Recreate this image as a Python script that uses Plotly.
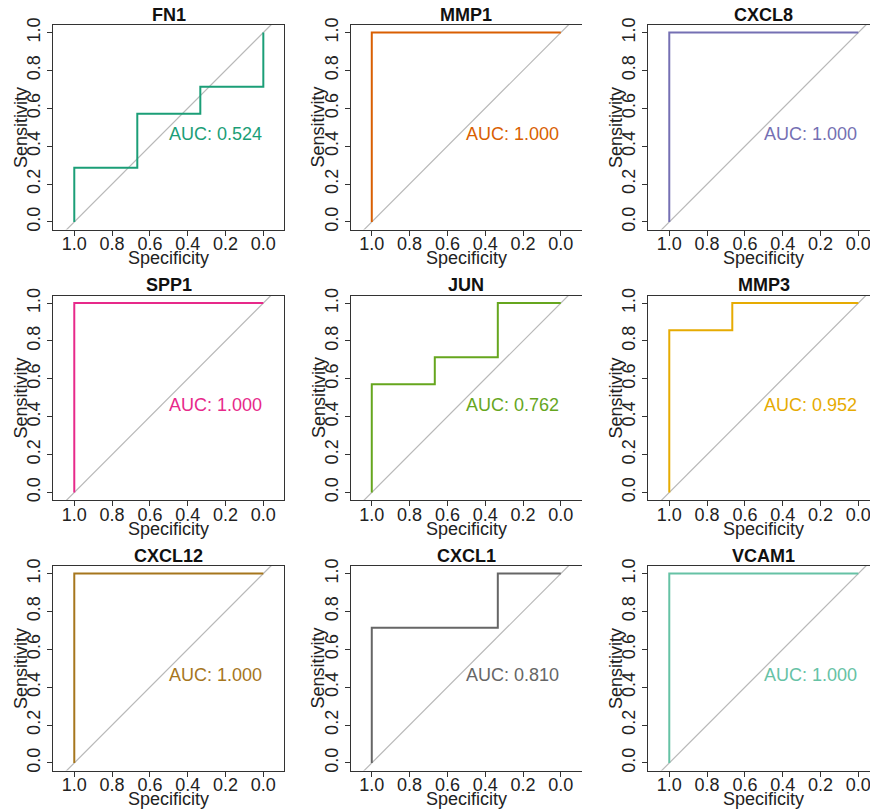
import plotly.graph_objects as go

# ROC curves (specificity, sensitivity) for each gene
genes = ["FN1", "MMP1", "CXCL8", "SPP1", "JUN", "MMP3", "CXCL12", "CXCL1", "VCAM1"]

FN1_spec = [1.0, 1.0, 0.6667, 0.6667, 0.3333, 0.3333, 0.0, 0.0]
FN1_sens = [0.0, 0.2857, 0.2857, 0.5714, 0.5714, 0.7143, 0.7143, 1.0]

MMP1_spec = [1.0, 1.0, 0.0]
MMP1_sens = [0.0, 1.0, 1.0]

CXCL8_spec = [1.0, 1.0, 0.0]
CXCL8_sens = [0.0, 1.0, 1.0]

SPP1_spec = [1.0, 1.0, 0.0]
SPP1_sens = [0.0, 1.0, 1.0]

JUN_spec = [1.0, 1.0, 0.6667, 0.6667, 0.3333, 0.3333, 0.0]
JUN_sens = [0.0, 0.5714, 0.5714, 0.7143, 0.7143, 1.0, 1.0]

MMP3_spec = [1.0, 1.0, 0.6667, 0.6667, 0.0]
MMP3_sens = [0.0, 0.8571, 0.8571, 1.0, 1.0]

CXCL12_spec = [1.0, 1.0, 0.0]
CXCL12_sens = [0.0, 1.0, 1.0]

CXCL1_spec = [1.0, 1.0, 0.3333, 0.3333, 0.0]
CXCL1_sens = [0.0, 0.7143, 0.7143, 1.0, 1.0]

VCAM1_spec = [1.0, 1.0, 0.0]
VCAM1_sens = [0.0, 1.0, 1.0]

curve_spec = [FN1_spec, MMP1_spec, CXCL8_spec, SPP1_spec, JUN_spec,
              MMP3_spec, CXCL12_spec, CXCL1_spec, VCAM1_spec]
curve_sens = [FN1_sens, MMP1_sens, CXCL8_sens, SPP1_sens, JUN_sens,
              MMP3_sens, CXCL12_sens, CXCL1_sens, VCAM1_sens]

colors = ["#1B9E77", "#D95F02", "#7570B3", "#E7298A", "#66A61E",
          "#E6AB02", "#A6761D", "#666666", "#66C2A5"]

tick_vals = [0.0, 0.2, 0.4, 0.6, 0.8, 1.0]
tick_text = ["0.0", "0.2", "0.4", "0.6", "0.8", "1.0"]


def auc(spec, sens):
    """Area under a step ROC curve (specificity decreasing)."""
    area = 0.0
    for i in range(1, len(spec)):
        area += (spec[i - 1] - spec[i]) * (sens[i - 1] + sens[i]) / 2.0
    return area


# page geometry (pixels)
W, H = 870, 812
COL_LEFT = [53.3, 350.8, 648.3]
ROW_TOP = [25.0, 295.5, 566.0]
BOX_W, BOX_H = 231.0, 204.5
X_LO, X_HI = 1.111, -0.111
Y_LO, Y_HI = -0.04, 1.04
PX_PER_UNIT = BOX_W / (X_LO - X_HI)

FONT = "Liberation Sans, Arial, sans-serif"
TXT = "#222222"
BOX = "#333333"

fig = go.Figure()
layout = dict(
    width=W, height=H,
    margin=dict(l=0, r=0, t=0, b=0, pad=0, autoexpand=False),
    paper_bgcolor="white", plot_bgcolor="white",
    showlegend=False,
    font=dict(family=FONT, size=18, color=TXT),
)
annotations = []

for k, gene in enumerate(genes):
    r, c = divmod(k, 3)
    idx = k + 1
    xa, ya = f"x{idx}", f"y{idx}"
    left = COL_LEFT[c]
    right = min(left + BOX_W, W)
    x_hi = X_LO - (right - left) / PX_PER_UNIT
    top = ROW_TOP[r]
    bottom = top + BOX_H

    # chance line
    fig.add_trace(go.Scatter(
        x=[1.2, -0.2], y=[-0.2, 1.2], mode="lines",
        line=dict(color="#B8B8B8", width=1.2),
        xaxis=xa, yaxis=ya, hoverinfo="skip"))
    # ROC curve
    fig.add_trace(go.Scatter(
        x=curve_spec[k], y=curve_sens[k], mode="lines",
        line=dict(color=colors[k], width=2),
        xaxis=xa, yaxis=ya, name=gene))

    axis_common = dict(
        showgrid=False, zeroline=False, showline=True, linecolor=BOX,
        linewidth=1, ticks="outside", ticklen=5, tickcolor=BOX,
        tickwidth=1, tickvals=tick_vals, ticktext=tick_text,
        tickfont=dict(family=FONT, size=18, color=TXT),
        ticklabeloverflow="allow", automargin=False,
    )
    layout["xaxis" if idx == 1 else f"xaxis{idx}"] = dict(
        axis_common, domain=[left / W, right / W], range=[X_LO, x_hi],
        anchor=ya, mirror=True, ticklabelstandoff=-7)
    layout["yaxis" if idx == 1 else f"yaxis{idx}"] = dict(
        axis_common, domain=[1 - bottom / H, 1 - top / H],
        range=[Y_LO, Y_HI], anchor=xa, mirror=(right - left) >= BOX_W,
        tickangle=-90)

    # panel title
    annotations.append(dict(
        text=f"<b>{gene}</b>", xref=xa, x=0.5, yref="paper",
        y=1 - (top - 10) / H, xanchor="center", yanchor="middle",
        showarrow=False, font=dict(family=FONT, size=18, color="#111111")))
    # axis titles
    annotations.append(dict(
        text="Specificity", xref=xa, x=0.5, yref="paper",
        y=1 - (bottom + 28.5) / H, xanchor="center", yanchor="middle",
        showarrow=False, font=dict(family=FONT, size=18, color=TXT)))
    annotations.append(dict(
        text="Sensitivity", xref="paper", x=(left - 32.5) / W, yref=ya,
        y=0.5, xanchor="center", yanchor="middle", textangle=-90,
        showarrow=False, font=dict(family=FONT, size=18, color=TXT)))
    # AUC label
    annotations.append(dict(
        text=f"AUC: {auc(curve_spec[k], curve_sens[k]):.3f}", xref=xa,
        x=0.5, yref=ya, y=0.5, xanchor="left", yanchor="middle",
        yshift=-7, xshift=-2, showarrow=False,
        font=dict(family=FONT, size=18, color=colors[k])))

layout["annotations"] = annotations
fig.update_layout(**layout)
fig.write_html("out.html")
